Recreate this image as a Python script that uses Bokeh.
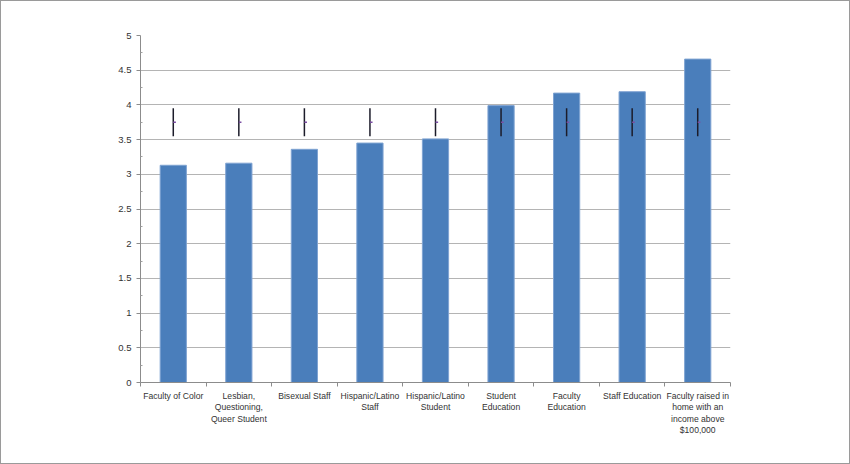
from bokeh.plotting import figure
from bokeh.models import Range1d, FixedTicker
from bokeh.embed import file_html
from bokeh.resources import INLINE

# groups along the x axis
categories = ["Faculty of Color", "Lesbian,\nQuestioning,\nQueer Student", "Bisexual Staff",
              "Hispanic/Latino\nStaff", "Hispanic/Latino\nStudent", "Student\nEducation",
              "Faculty\nEducation", "Staff Education",
              "Faculty raised in\nhome with an\nincome above\n$100,000"]
# mean scores (bars)
means = [3.13, 3.16, 3.36, 3.45, 3.51, 3.99, 4.17, 4.19, 4.66]
# reference interval drawn on each group
ref_low = [3.55, 3.55, 3.55, 3.55, 3.55, 3.55, 3.55, 3.55, 3.55]
ref_mid = [3.75, 3.75, 3.75, 3.75, 3.75, 3.75, 3.75, 3.75, 3.75]
ref_high = [3.95, 3.95, 3.95, 3.95, 3.95, 3.95, 3.95, 3.95, 3.95]
y_ticks = [0, 0.5, 1, 1.5, 2, 2.5, 3, 3.5, 4, 4.5, 5]
y_tick_labels = ["0", "0.5", "1", "1.5", "2", "2.5", "3", "3.5", "4", "4.5", "5"]
y_minor = [0.25, 0.75, 1.25, 1.75, 2.25, 2.75, 3.25, 3.75, 4.25, 4.75]

xs = [i + 0.5 for i in range(len(categories))]
FONT = "Liberation Sans"

p = figure(width=850, height=464, x_range=Range1d(0, 9), y_range=Range1d(0, 5),
           output_backend="svg", toolbar_location=None,
           min_border_left=139, min_border_right=121, min_border_top=34, min_border_bottom=83)
p.outline_line_color = None
p.styles = {"border": "1px solid #9a9a9a", "box-sizing": "border-box"}

p.vbar(x=xs, top=means, width=0.4, fill_color="#4A7EBB", line_color="#7FA3D2", line_width=1)
p.segment(x0=xs, y0=ref_low, x1=xs, y1=ref_high, line_color="#1c1c2a", line_width=1.5)
p.segment(x0=xs, y0=ref_mid, x1=[x + 0.04 for x in xs], y1=ref_mid, line_color="#7b4ea3", line_width=1.5)

# x axis: labels at centres, ticks at group boundaries
p.xaxis.ticker = FixedTicker(ticks=xs, minor_ticks=list(range(10)))
p.xaxis.major_label_overrides = {x: c for x, c in zip(xs, categories)}
p.xaxis.major_tick_line_color = None
p.xaxis.minor_tick_line_color = "#8c8c8c"
p.xaxis.minor_tick_in = 0
p.xaxis.minor_tick_out = 4
p.xaxis.axis_line_color = "#8c8c8c"
p.xaxis.major_label_text_font = FONT
p.xaxis.major_label_text_font_size = "8.6px"
p.xaxis.major_label_text_color = "#333333"
p.xaxis.major_label_text_line_height = 1.15
p.xaxis.major_label_standoff = 2
p.xgrid.visible = False

p.yaxis.ticker = FixedTicker(ticks=y_ticks, minor_ticks=y_minor)
p.yaxis.major_label_overrides = {t: s for t, s in zip(y_ticks, y_tick_labels)}
p.yaxis.axis_line_color = "#8c8c8c"
p.yaxis.major_tick_line_color = "#8c8c8c"
p.yaxis.major_tick_in = 0
p.yaxis.major_tick_out = 4
p.yaxis.minor_tick_line_color = "#a0a0a0"
p.yaxis.minor_tick_in = 2
p.yaxis.minor_tick_out = 0
p.yaxis.major_label_text_font = FONT
p.yaxis.major_label_text_font_size = "9.5px"
p.yaxis.major_label_text_color = "#333333"
p.yaxis.major_label_standoff = 5
p.ygrid.grid_line_color = "#b4b4b4"
p.ygrid.grid_line_width = 1

open("out.html", "w").write(file_html(p, INLINE))
